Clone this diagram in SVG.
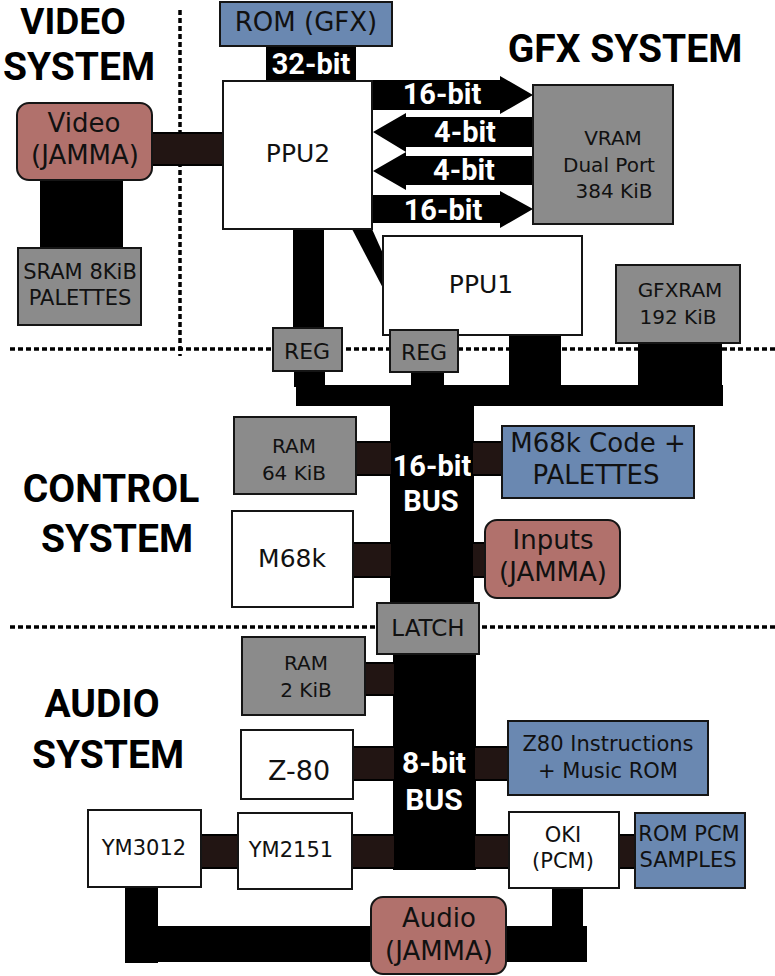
<svg xmlns="http://www.w3.org/2000/svg" width="775" height="976" viewBox="0 0 775 976">
<style>
.box{stroke:#151515;stroke-width:2}
.white{fill:#ffffff}
.gray{fill:#8b8b8b}
.blue{fill:#6a88b1}
.red{fill:#b1716c}
.bus{fill:#000}
.link{fill:#221513;stroke:#000;stroke-width:2}
.t{font-family:"DejaVu Sans",sans-serif;fill:#111;text-anchor:middle}
.s{font-size:20px}
.m{font-size:21px}
.l{font-size:26px}
.lbl{font-family:Roboto,"Liberation Sans",sans-serif;font-weight:bold;font-size:29px;fill:#fff;text-anchor:middle}
.title{font-family:Roboto,"Liberation Sans",sans-serif;font-weight:bold;font-size:39px;fill:#000;text-anchor:middle}
.dot{stroke:#000;stroke-width:3.5;stroke-dasharray:5 3;fill:none}
</style>

<g id="dividers">
<line class="dot" x1="180" y1="10" x2="180" y2="356"/>
<line class="dot" x1="10" y1="349" x2="775" y2="349"/>
<line class="dot" x1="10" y1="627" x2="775" y2="627"/>
</g>

<g id="titles">
<text class="title" x="73" y="34" style="font-size:37px">VIDEO</text>
<text class="title" x="79" y="80">SYSTEM</text>
<text class="title" x="625" y="62">GFX SYSTEM</text>
<text class="title" x="111" y="502">CONTROL</text>
<text class="title" x="117" y="552">SYSTEM</text>
<text class="title" x="102" y="717">AUDIO</text>
<text class="title" x="108" y="768">SYSTEM</text>
</g>

<g id="connectors">
<rect class="bus" x="266" y="44" width="90" height="38"/>
<text class="lbl" x="311" y="74">32-bit</text>
<rect class="link" x="150" y="133" width="75" height="32"/>
<rect class="bus" x="40" y="178" width="83" height="72"/>
<rect class="bus" x="293" y="227" width="31" height="103"/>
<polygon class="bus" points="352,229 372,229 385,258 385,292"/>
<polygon class="bus" points="373,80 500,80 500,76 533,95 500,114 500,110 373,110"/>
<polygon class="bus" points="533,117 406,117 406,113 373,132 406,152 406,147 533,147"/>
<polygon class="bus" points="533,156 406,156 406,152 373,171 406,190 406,185 533,185"/>
<polygon class="bus" points="373,195 500,195 500,191 533,209 500,228 500,223 373,223"/>
<text class="lbl" x="442" y="104">16-bit</text>
<text class="lbl" x="465" y="142">4-bit</text>
<text class="lbl" x="464" y="180">4-bit</text>
<text class="lbl" x="443" y="220">16-bit</text>
<rect class="bus" x="294" y="369" width="31" height="18"/>
<rect class="bus" x="411" y="370" width="33" height="17"/>
<rect class="bus" x="509" y="333" width="52" height="73"/>
<rect class="bus" x="638" y="341" width="84" height="65"/>
<rect class="bus" x="296" y="385" width="427" height="21"/>
<rect class="bus" x="390" y="385" width="84" height="220"/>
<text class="lbl" x="432" y="476">16-bit</text>
<text class="lbl" x="431" y="511">BUS</text>
<rect class="link" x="354" y="442" width="38" height="33"/>
<rect class="link" x="472" y="442" width="32" height="33"/>
<rect class="link" x="351" y="543" width="41" height="34"/>
<rect class="link" x="472" y="543" width="15" height="34"/>
<rect class="bus" x="393" y="652" width="83" height="218"/>
<text class="lbl" x="434" y="773" style="font-size:30px">8-bit</text>
<text class="lbl" x="434" y="810" style="font-size:30px">BUS</text>
<rect class="link" x="363" y="663" width="32" height="32"/>
<rect class="link" x="351" y="747" width="44" height="33"/>
<rect class="link" x="474" y="747" width="36" height="33"/>
<rect class="link" x="199" y="835" width="41" height="33"/>
<rect class="link" x="350" y="835" width="45" height="33"/>
<rect class="link" x="474" y="835" width="37" height="33"/>
<rect class="link" x="617" y="835" width="20" height="33"/>
<rect class="bus" x="125" y="885" width="33" height="78"/>
<rect class="bus" x="125" y="926" width="462" height="36"/>
<rect class="bus" x="552" y="886" width="31" height="45"/>
</g>

<g id="rom-gfx"><rect class="box blue" x="220" y="2" width="172" height="44"/><text class="t l" x="306" y="31">ROM (GFX)</text></g>
<g id="ppu2"><rect class="box white" x="223" y="81" width="149" height="148"/><text class="t" style="font-size:25px" x="298" y="162">PPU2</text></g>
<g id="video"><rect class="box red" x="17" y="103" width="135" height="77" rx="12"/><text class="t l" x="84" y="132">Video</text><text class="t l" x="85" y="164">(JAMMA)</text></g>
<g id="sram"><rect class="box gray" x="18" y="248" width="123" height="77"/><text class="t m" x="80" y="279">SRAM 8KiB</text><text class="t m" x="80" y="305">PALETTES</text></g>
<g id="vram"><rect class="box gray" x="533" y="85" width="140" height="139"/><text class="t s" x="613" y="145">VRAM</text><text class="t s" x="609" y="172">Dual Port</text><text class="t s" x="614" y="198">384 KiB</text></g>
<g id="ppu1"><rect class="box white" x="383" y="236" width="199" height="99"/><text class="t" style="font-size:25px" x="481" y="293">PPU1</text></g>
<g id="gfxram"><rect class="box gray" x="616" y="265" width="124" height="78"/><text class="t s" x="680" y="297">GFXRAM</text><text class="t s" x="678" y="324">192 KiB</text></g>
<g id="reg1"><rect class="box gray" x="273" y="328" width="69" height="43"/><text class="t" style="font-size:22px" x="307" y="359">REG</text></g>
<g id="reg2"><rect class="box gray" x="390" y="330" width="68" height="42"/><text class="t" style="font-size:22px" x="424" y="360">REG</text></g>
<g id="ram64"><rect class="box gray" x="234" y="417" width="122" height="77"/><text class="t s" x="294" y="453">RAM</text><text class="t s" x="294" y="480">64 KiB</text></g>
<g id="m68k-code"><rect class="box blue" x="502" y="426" width="192" height="72"/><text class="t l" x="598" y="452">M68k Code +</text><text class="t l" x="596" y="484">PALETTES</text></g>
<g id="m68k"><rect class="box white" x="232" y="511" width="121" height="96"/><text class="t" style="font-size:25px" x="292" y="567">M68k</text></g>
<g id="inputs"><rect class="box red" x="485" y="520" width="135" height="78" rx="12"/><text class="t l" x="553" y="549">Inputs</text><text class="t l" x="553" y="581">(JAMMA)</text></g>
<g id="latch"><rect class="box gray" x="377" y="603" width="102" height="51"/><text class="t" style="font-size:23px" x="428" y="636">LATCH</text></g>
<g id="ram2"><rect class="box gray" x="242" y="637" width="123" height="78"/><text class="t s" x="306" y="670">RAM</text><text class="t s" x="306" y="697">2 KiB</text></g>
<g id="z80"><rect class="box white" x="241" y="730" width="112" height="69"/><text class="t" style="font-size:27px" x="299" y="780">Z-80</text></g>
<g id="z80-rom"><rect class="box blue" x="508" y="721" width="200" height="74"/><text class="t m" x="608" y="751">Z80 Instructions</text><text class="t m" x="608" y="778">+ Music ROM</text></g>
<g id="ym3012"><rect class="box white" x="88" y="810" width="113" height="77"/><text class="t m" x="144" y="855">YM3012</text></g>
<g id="ym2151"><rect class="box white" x="238" y="813" width="114" height="76"/><text class="t m" x="291" y="857">YM2151</text></g>
<g id="oki"><rect class="box white" x="509" y="812" width="110" height="76"/><text class="t m" x="563" y="842">OKI</text><text class="t m" x="563" y="868">(PCM)</text></g>
<g id="rom-pcm"><rect class="box blue" x="635" y="813" width="110" height="75"/><text class="t m" x="689" y="841">ROM PCM</text><text class="t m" x="688" y="867">SAMPLES</text></g>
<g id="audio"><rect class="box red" x="371" y="897" width="135" height="77" rx="12"/><text class="t l" x="439" y="927">Audio</text><text class="t l" x="439" y="960">(JAMMA)</text></g>
</svg>
